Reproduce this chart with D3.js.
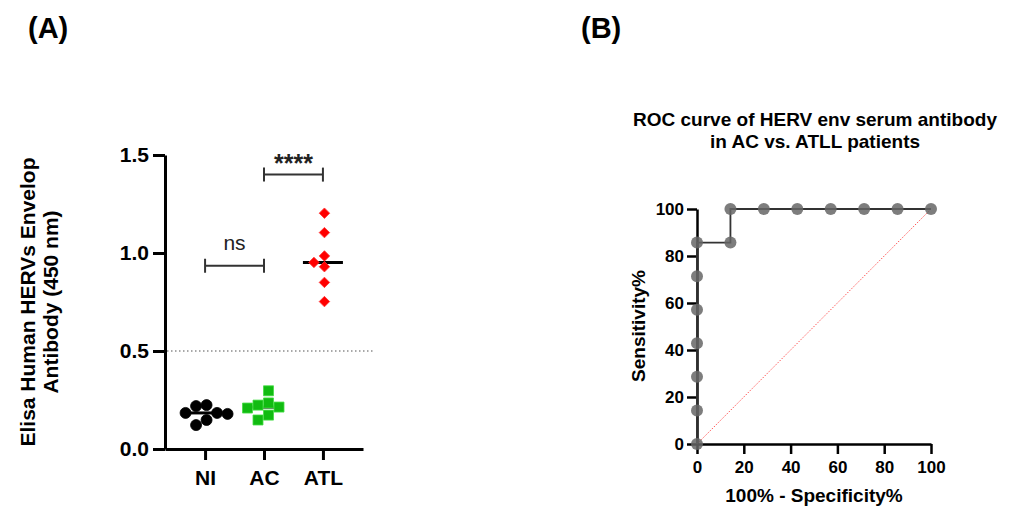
<!DOCTYPE html>
<html lang="en">
  <head>
    <meta charset="utf-8" />
    <title>HERV env antibody - scatter and ROC</title>
    <script src="https://cdn.jsdelivr.net/npm/d3@7"></script>
    <style>
      body {
        margin: 0;
        background: #fff;
      }
      svg {
        font-family: Arial, "Liberation Sans", sans-serif;
      }
      .axis path,
      .axis line {
        stroke: #000;
      }
      .axis text {
        font-weight: bold;
        fill: #000;
      }
    </style>
  </head>
  <body>
    <svg id="chart"></svg>

    <script>
      // ----- panel A data -----
      const groups = ["NI", "AC", "ATL"];
      const niValues = [0.224, 0.219, 0.184, 0.184, 0.179, 0.148, 0.122];
      const acValues = [0.297, 0.235, 0.224, 0.214, 0.209, 0.173, 0.148];
      const atlValues = [1.203, 1.104, 0.985, 0.952, 0.93, 0.85, 0.752];
      const yTicksA = [0, 0.5, 1.0, 1.5];
      const cutoff = 0.5;
      const comparisons = [
        { from: "NI", to: "AC", label: "ns", level: 0.935 },
        { from: "AC", to: "ATL", label: "****", level: 1.4 }
      ];

      // ----- panel B data (ROC) -----
      const rocSpecificity = [0, 0, 0, 0, 0, 0, 0, 14.29, 14.29, 28.57, 42.86, 57.14, 71.43, 85.71, 100];
      const rocSensitivity = [0, 14.29, 28.57, 42.86, 57.14, 71.43, 85.71, 85.71, 100, 100, 100, 100, 100, 100, 100];
      const rocTicks = [0, 20, 40, 60, 80, 100];

      const width = 1015;
      const height = 508;

      const svg = d3.select("#chart").attr("width", width).attr("height", height);

      // panel letters
      svg.append("text").attr("x", 28).attr("y", 38).attr("font-size", 29).attr("font-weight", "bold").text("(A)");
      svg.append("text").attr("x", 581).attr("y", 38).attr("font-size", 29).attr("font-weight", "bold").text("(B)");

      ///////////////////////// panel A

      const gA = svg.append("g");
      const xA = d3.scalePoint().domain(groups).range([165, 363]).padding(0.68);
      const yA = d3.scaleLinear().domain([0, 1.5]).range([449, 155]);

      const yAxisA = d3
        .axisLeft(yA)
        .tickValues(yTicksA)
        .tickFormat(d3.format(".1f"))
        .tickSize(12)
        .tickSizeOuter(0)
        .tickPadding(4);
      const gyA = gA.append("g").attr("class", "axis").attr("transform", "translate(165,0)").call(yAxisA);
      gyA.selectAll("path, line").attr("stroke-width", 3);
      gyA.selectAll("text").attr("font-size", 21);

      const xAxisA = d3.axisBottom(xA).tickSize(11).tickSizeOuter(0).tickPadding(10);
      const gxA = gA.append("g").attr("class", "axis").attr("transform", "translate(0,449)").call(xAxisA);
      gxA.selectAll("path, line").attr("stroke-width", 3);
      gxA.selectAll("text").attr("font-size", 21);

      // cutoff line
      gA.append("line")
        .attr("x1", 167)
        .attr("x2", 373)
        .attr("y1", yA(cutoff))
        .attr("y2", yA(cutoff))
        .attr("stroke", "#555")
        .attr("stroke-width", 1.2)
        .attr("stroke-dasharray", "1.5,2.5");

      // simple beeswarm: greedy placement, then recentre
      function swarm(values, diam) {
        const placed = [];
        const sorted = values.slice().sort((a, b) => b - a);
        sorted.forEach(v => {
          const y = yA(v);
          for (let k = 0; k < 40; k++) {
            const off = (k % 2 === 0 ? 1 : -1) * Math.ceil(k / 2) * (diam / 2);
            const ok = placed.every(p => Math.hypot(p.dx - off, p.y - y) >= diam - 0.5);
            if (ok) {
              placed.push({ v, y, dx: off });
              break;
            }
          }
        });
        const mean = d3.mean(placed, p => p.dx);
        placed.forEach(p => (p.dx -= mean));
        return placed;
      }

      const seriesA = [
        { key: "NI", values: niValues, shape: d3.symbolCircle, size: 95, fill: "#000", stroke: "#000", lineW: 30 },
        { key: "AC", values: acValues, shape: d3.symbolSquare, size: 100, fill: "#11bb11", stroke: "#44dd44", lineW: 30 },
        { key: "ATL", values: atlValues, shape: d3.symbolDiamond2, size: 70, fill: "#ff0000", stroke: "#ff3333", lineW: 40 }
      ];

      seriesA.forEach(s => {
        const cx = xA(s.key);
        const med = d3.median(s.values);
        gA.append("line")
          .attr("x1", cx - s.lineW / 2)
          .attr("x2", cx + s.lineW / 2)
          .attr("y1", yA(med))
          .attr("y2", yA(med))
          .attr("stroke", "#000")
          .attr("stroke-width", 3);

        const pts = swarm(s.values, 10.5);
        gA.selectAll(null)
          .data(pts)
          .join("path")
          .attr("d", d3.symbol().type(s.shape).size(s.size))
          .attr("transform", d => `translate(${cx + d.dx},${d.y})`)
          .attr("fill", s.fill)
          .attr("stroke", s.stroke)
          .attr("stroke-width", 0.8);
      });

      // significance brackets
      comparisons.forEach(c => {
        const y = yA(c.level);
        const x1 = xA(c.from);
        const x2 = xA(c.to);
        const g = gA.append("g").attr("stroke", "#333").attr("stroke-width", 2);
        g.append("line").attr("x1", x1).attr("x2", x2).attr("y1", y).attr("y2", y);
        g.append("line").attr("x1", x1).attr("x2", x1).attr("y1", y - 7).attr("y2", y + 7);
        g.append("line").attr("x1", x2).attr("x2", x2).attr("y1", y - 7).attr("y2", y + 7);
        gA.append("text")
          .attr("x", (x1 + x2) / 2)
          .attr("y", c.label === "ns" ? y - 16 : y - 3)
          .attr("text-anchor", "middle")
          .attr("font-size", c.label === "ns" ? 21 : 25)
          .attr("font-weight", c.label === "ns" ? "normal" : "bold")
          .attr("fill", "#222")
          .text(c.label);
      });

      // y title
      const yTitleA = gA.append("text")
        .attr("transform", "translate(35,302) rotate(-90)")
        .attr("text-anchor", "middle")
        .attr("font-size", 21)
        .attr("font-weight", "bold");
      yTitleA.append("tspan").attr("x", 0).attr("dy", 0).text("Elisa Human HERVs Envelop");
      yTitleA.append("tspan").attr("x", 0).attr("dy", 23).text("Antibody (450 nm)");

      ///////////////////////// panel B

      const gB = svg.append("g");
      const xB = d3.scaleLinear().domain([0, 100]).range([697, 931]);
      const yB = d3.scaleLinear().domain([0, 100]).range([444, 209]);

      const gxB = gB.append("g")
        .attr("class", "axis")
        .attr("transform", "translate(0,444)")
        .call(d3.axisBottom(xB).tickValues(rocTicks).tickSize(10).tickSizeOuter(0).tickPadding(7));
      gxB.selectAll("path, line").attr("stroke-width", 2.5);
      gxB.selectAll("text").attr("font-size", 17);

      const gyB = gB.append("g")
        .attr("class", "axis")
        .attr("transform", "translate(697,0)")
        .call(d3.axisLeft(yB).tickValues(rocTicks).tickSize(10).tickSizeOuter(0).tickPadding(3));
      gyB.selectAll("path, line").attr("stroke-width", 2.5);
      gyB.selectAll("text").attr("font-size", 17);

      // reference diagonal
      gB.append("line")
        .attr("x1", xB(0))
        .attr("y1", yB(0))
        .attr("x2", xB(100))
        .attr("y2", yB(100))
        .attr("stroke", "#ff5555")
        .attr("stroke-width", 1)
        .attr("stroke-dasharray", "1.5,1.5");

      const roc = rocSpecificity.map((s, i) => ({ x: s, y: rocSensitivity[i] }));

      gB.append("path")
        .datum(roc)
        .attr("d", d3.line().x(d => xB(d.x)).y(d => yB(d.y)).curve(d3.curveStepAfter))
        .attr("fill", "none")
        .attr("stroke", "#333")
        .attr("stroke-width", 1.8);

      gB.selectAll(null)
        .data(roc)
        .join("circle")
        .attr("cx", d => xB(d.x))
        .attr("cy", d => yB(d.y))
        .attr("r", 6)
        .attr("fill", "#666")
        .attr("fill-opacity", 0.85);

      const titleB = gB.append("text")
        .attr("text-anchor", "middle")
        .attr("font-size", 19)
        .attr("font-weight", "bold");
      titleB.append("tspan").attr("x", 815).attr("y", 126).text("ROC curve of HERV env serum antibody");
      titleB.append("tspan").attr("x", 815).attr("y", 148).text("in AC vs. ATLL patients");

      gB.append("text")
        .attr("x", 814)
        .attr("y", 502)
        .attr("text-anchor", "middle")
        .attr("font-size", 19)
        .attr("font-weight", "bold")
        .text("100% - Specificity%");

      gB.append("text")
        .attr("transform", "translate(645,326) rotate(-90)")
        .attr("text-anchor", "middle")
        .attr("font-size", 19)
        .attr("font-weight", "bold")
        .text("Sensitivity%");
    </script>
  </body>
</html>
